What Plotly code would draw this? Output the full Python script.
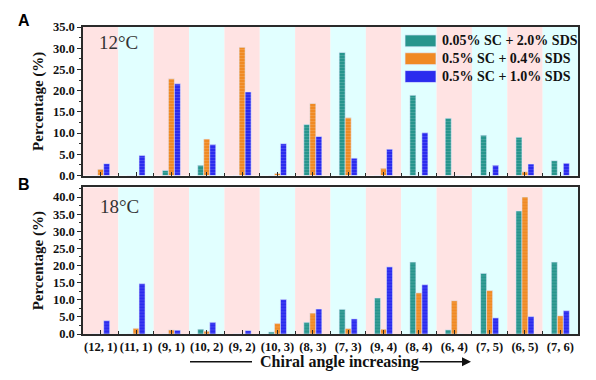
import plotly.graph_objects as go

categories = ["(12, 1)", "(11, 1)", "(9, 1)", "(10, 2)", "(9, 2)", "(10, 3)", "(8, 3)",
              "(7, 3)", "(9, 4)", "(8, 4)", "(6, 4)", "(7, 5)", "(6, 5)", "(7, 6)"]
series_names = ["0.05% SC + 2.0% SDS", "0.5% SC + 0.4% SDS", "0.5% SC + 1.0% SDS"]

# 12 °C (panel A)
a_sc005_sds20 = [0.0, 0.0, 1.2, 2.4, 0.0, 0.0, 12.0, 29.0, 0.0, 18.9, 13.5, 9.5, 9.0, 3.5]
a_sc05_sds04 = [1.5, 0.0, 22.8, 8.6, 30.2, 0.5, 17.0, 13.6, 1.7, 0.0, 0.0, 0.0, 0.9, 0.0]
a_sc05_sds10 = [2.8, 4.7, 21.6, 7.3, 19.7, 7.5, 9.2, 4.1, 6.2, 10.1, 0.0, 2.4, 2.7, 2.9]

# 18 °C (panel B)
b_sc005_sds20 = [0.0, 0.0, 0.0, 1.4, 0.0, 0.6, 3.4, 7.2, 10.5, 21.0, 1.2, 17.7, 35.9, 21.0]
b_sc05_sds04 = [0.0, 1.65, 1.2, 0.8, 0.0, 3.1, 6.1, 1.6, 1.4, 12.0, 9.7, 12.7, 40.0, 5.3]
b_sc05_sds10 = [3.9, 14.7, 1.1, 3.4, 1.0, 10.1, 7.3, 4.4, 19.6, 14.4, 0.0, 4.7, 5.1, 6.8]

y_ticks_a = [0, 5, 10, 15, 20, 25, 30, 35]
y_ticks_b = [0, 5, 10, 15, 20, 25, 30, 35, 40]

colors = ["#27958D", "#F08A24", "#2B2BEE"]
band_colors = ["#FFE3E3", "#E1FFFF"]

SERIF = "Liberation Serif"
xs = list(range(len(categories)))

# page body has an 8 px margin: figure is sized to fit the 596x380 window
W, H = 588, 372
ML, MR, MT, MB = 75, 18, 16, 46
PW, PH = W - ML - MR, H - MT - MB


def px_x(p):  # window pixel -> paper
    return (p - 8 - ML) / PW


def px_y(p):
    return (H - MB + 8 - p) / PH


fig = go.Figure()

panels = [
    ([a_sc005_sds20, a_sc05_sds04, a_sc05_sds10], "x", "y"),
    ([b_sc005_sds20, b_sc05_sds04, b_sc05_sds10], "x2", "y2"),
]
for vals, xa, ya in panels:
    for name, v, c in zip(series_names, vals, colors):
        fig.add_trace(go.Bar(
            x=xs, y=v, name=name, xaxis=xa, yaxis=ya, showlegend=False,
            marker=dict(color=c,
                        line=dict(color="rgba(225,235,255,0.9)", width=0.6),
                        pattern=dict(shape="-", fgcolor="rgba(255,255,255,0.35)",
                                     size=3, solidity=0.25)),
        ))

# background bands
for xref, yref in [("x", "y domain"), ("x2", "y2 domain")]:
    for i in xs:
        fig.add_shape(type="rect", xref=xref, yref=yref,
                      x0=i - 0.5, x1=i + 0.5, y0=0, y1=1,
                      fillcolor=band_colors[i % 2], line=dict(width=0), layer="below")

axis_line = dict(showline=True, linecolor="#2a2a2a", linewidth=1.5, mirror=True,
                 showgrid=False, zeroline=False)
xcommon = dict(range=[-0.5, len(categories) - 0.5], tickvals=xs, ticks="inside",
               ticklen=4, tickwidth=1.2, tickcolor="#2a2a2a",
               minor=dict(tickvals=[i + 0.5 for i in xs[:-1]], ticks="inside",
                          ticklen=3, tickcolor="#2a2a2a"),
               **axis_line)
ycommon = dict(ticks="outside", ticklen=4, tickwidth=1.2, tickcolor="#2a2a2a",
               tickfont=dict(family=SERIF, size=12.5, color="#111"),
               minor=dict(dtick=2.5, ticks="outside", ticklen=2.5, tickcolor="#2a2a2a"),
               title=dict(text="<b>Percentage (%)</b>",
                          font=dict(family=SERIF, size=15, color="#111"), standoff=6),
               **axis_line)

fig.update_layout(
    width=W, height=H,
    margin=dict(l=ML, r=MR, t=MT, b=MB),
    paper_bgcolor="white", plot_bgcolor="white",
    barmode="group", bargap=0.49, bargroupgap=0,
    xaxis=dict(domain=[0, 1], anchor="y", showticklabels=False, **xcommon),
    yaxis=dict(domain=[px_y(174), 1.0], anchor="x", range=[0, 35], tickvals=y_ticks_a,
               ticktext=["<b>%.1f</b>" % t for t in y_ticks_a], **ycommon),
    xaxis2=dict(domain=[0, 1], anchor="y2", ticktext=["<b>%s</b>" % c for c in categories],
                tickfont=dict(family=SERIF, size=12.5, color="#111"), **xcommon),
    yaxis2=dict(domain=[0, px_y(186)], anchor="x2", range=[0, 42.8], tickvals=y_ticks_b,
                ticktext=["<b>%.1f</b>" % t for t in y_ticks_b], **ycommon),
    showlegend=False,
)

# legend (wide swatches as in the original)
for k, (name, c) in enumerate(zip(series_names, colors)):
    yc = 38 + 18 * k
    fig.add_shape(type="rect", xref="paper", yref="paper",
                  x0=px_x(405), x1=px_x(436), y0=px_y(yc + 6), y1=px_y(yc - 6),
                  fillcolor=c, line=dict(color="rgba(225,235,255,0.9)", width=0.8))
    fig.add_annotation(text="<b>%s</b>" % name, xref="paper", yref="paper",
                       x=px_x(440), y=px_y(yc), xanchor="left", yanchor="middle",
                       showarrow=False, font=dict(family=SERIF, size=14, color="#111"))

# panel labels and temperatures
fig.add_annotation(text="<b>A</b>", xref="paper", yref="paper", x=px_x(16), y=px_y(17),
                   xanchor="left", yanchor="middle", showarrow=False,
                   font=dict(family="Liberation Sans", size=16, color="#000"))
fig.add_annotation(text="<b>B</b>", xref="paper", yref="paper", x=px_x(16), y=px_y(183),
                   xanchor="left", yanchor="middle", showarrow=False,
                   font=dict(family="Liberation Sans", size=16, color="#000"))
fig.add_annotation(text="12°C", xref="paper", yref="paper", x=px_x(97), y=px_y(40),
                   xanchor="left", yanchor="middle", showarrow=False,
                   font=dict(family=SERIF, size=19, color="#333"))
fig.add_annotation(text="18°C", xref="paper", yref="paper", x=px_x(98), y=px_y(205),
                   xanchor="left", yanchor="middle", showarrow=False,
                   font=dict(family=SERIF, size=19, color="#333"))

# x title with arrow
fig.add_annotation(text="<b>Chiral angle increasing</b>", xref="paper", yref="paper",
                   x=px_x(339), y=px_y(362), xanchor="center", yanchor="middle",
                   showarrow=False, font=dict(family=SERIF, size=16, color="#111"))
fig.add_shape(type="line", xref="paper", yref="paper",
              x0=px_x(190), x1=px_x(252), y0=px_y(362), y1=px_y(362),
              line=dict(color="#111", width=1.5))
fig.add_annotation(text="", xref="paper", yref="paper", x=px_x(471), y=px_y(362),
                   ax=-53, ay=0, showarrow=True, arrowhead=2, arrowsize=1.2,
                   arrowwidth=1.5, arrowcolor="#111")

fig.write_html("out.html")
